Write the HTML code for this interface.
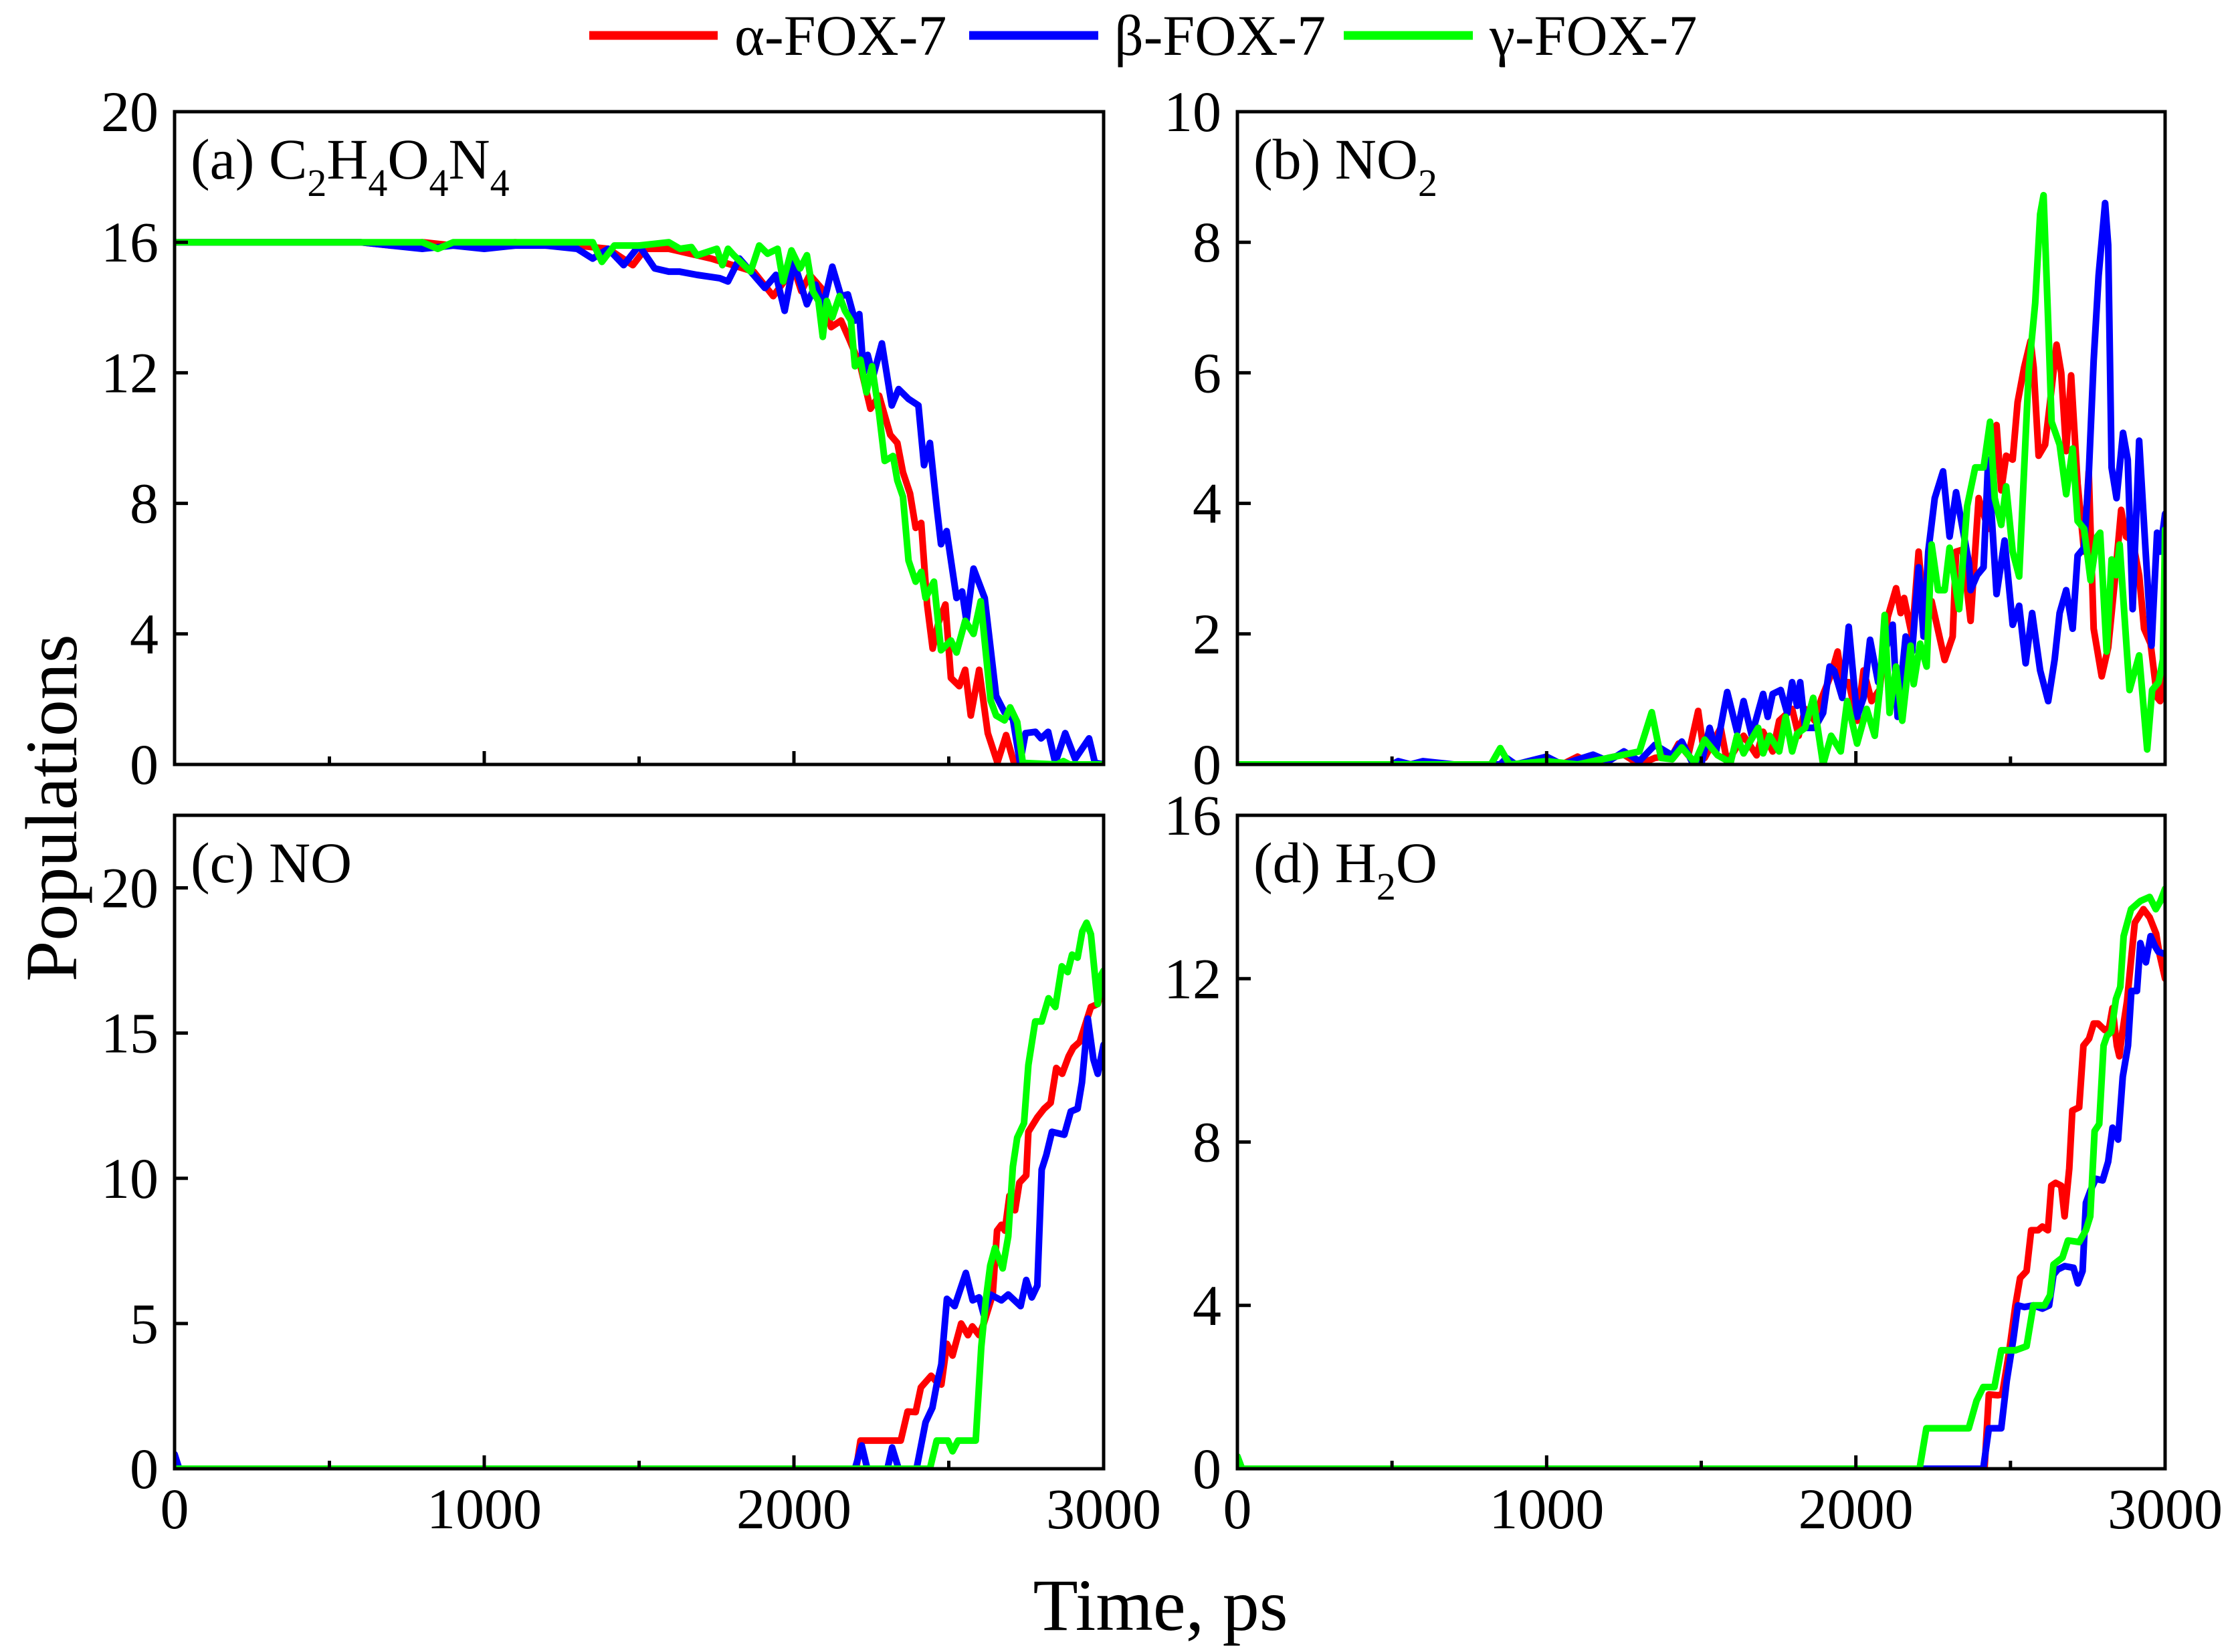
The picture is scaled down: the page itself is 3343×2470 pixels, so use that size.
<!DOCTYPE html>
<html>
<head>
<meta charset="utf-8">
<style>
html,body{margin:0;padding:0;background:#fff;}
svg{display:block;font-family:"Liberation Serif","DejaVu Serif",serif;}
</style>
</head>
<body>
<svg id="chart" width="3343" height="2470" viewBox="0 0 3343 2470" xmlns="http://www.w3.org/2000/svg">
  <rect x="0" y="0" width="3343" height="2470" fill="#fff"/>
  <g id="legend">
    <g>
      <line x1="881" y1="53" x2="1073" y2="53" stroke="#ff0000" stroke-width="13"/>
      <text x="1098" y="82" font-size="86">α-FOX-7</text>
    </g>
    <g>
      <line x1="1449" y1="53" x2="1642" y2="53" stroke="#0000ff" stroke-width="13"/>
      <text x="1666" y="82" font-size="86">β-FOX-7</text>
    </g>
    <g>
      <line x1="2009" y1="53" x2="2202" y2="53" stroke="#00ff00" stroke-width="13"/>
      <text x="2227" y="82" font-size="86">γ-FOX-7</text>
    </g>
  </g>
  <text x="0" y="0" font-size="110" text-anchor="middle" transform="translate(114,1208) rotate(-90)">Populations</text>
  <text x="1735" y="2437" font-size="110" text-anchor="middle">Time, ps</text>
  <g id="panels"></g>
</svg>
<script>
// ---- data: [time ps, population] ----
const aAlpha=[[0,16],[600,16],[700,15.9],[800,16],[900,15.9],[1000,15.9],[1100,16],[1200,15.9],[1300,15.9],[1400,15.8],[1480,15.3],[1520,15.8],[1596,15.8],[1733,15.5],[1870,15.1],[1933,14.35],[2000,15.2],[2024,14.5],[2051,15.0],[2088,14.6],[2120,13.4],[2152,13.6],[2180,13.0],[2215,12.2],[2247,10.9],[2275,11.3],[2311,10.1],[2334,9.85],[2352,8.95],[2375,8.3],[2393,7.25],[2411,7.4],[2430,4.9],[2448,3.55],[2466,4.33],[2489,4.9],[2507,2.65],[2534,2.4],[2553,2.9],[2571,1.5],[2598,2.9],[2626,0.96],[2657,0.06],[2685,0.9],[2712,0],[3000,0]];
const aBeta=[[0,16],[600,16],[700,15.9],[800,15.8],[900,15.9],[1000,15.8],[1100,15.9],[1200,15.9],[1300,15.8],[1350,15.5],[1400,15.8],[1450,15.3],[1500,15.9],[1550,15.2],[1596,15.1],[1630,15.1],[1687,15.0],[1760,14.9],[1787,14.8],[1824,15.5],[1906,14.6],[1942,15.0],[1970,13.9],[2000,15.4],[2042,14.1],[2070,14.7],[2093,14.0],[2124,15.25],[2152,14.35],[2174,14.4],[2197,13.6],[2211,13.8],[2225,12.0],[2238,12.55],[2256,11.9],[2284,12.9],[2316,11.0],[2338,11.5],[2370,11.2],[2402,11.0],[2420,9.17],[2439,9.85],[2461,7.9],[2475,6.75],[2493,7.15],[2525,5.1],[2543,5.3],[2557,4.4],[2580,6.0],[2616,5.1],[2653,2.1],[2680,1.6],[2707,1.4],[2730,0.05],[2748,0.96],[2780,1.0],[2798,0.8],[2821,1.0],[2844,0.05],[2876,0.96],[2908,0.17],[2953,0.8],[2972,0.05],[3000,0]];
const aGamma=[[0,16],[800,16],[850,15.8],[900,16],[1350,16],[1380,15.4],[1420,15.9],[1500,15.9],[1596,16.0],[1632,15.8],[1669,15.85],[1687,15.6],[1751,15.8],[1769,15.3],[1787,15.8],[1806,15.6],[1860,15.1],[1888,15.9],[1915,15.65],[1947,15.8],[1965,14.8],[1992,15.75],[2020,15.2],[2042,15.6],[2061,14.5],[2079,14.2],[2093,13.1],[2106,14.2],[2124,13.7],[2147,14.35],[2165,13.9],[2184,13.6],[2197,12.2],[2215,12.4],[2234,11.4],[2252,12.2],[2275,10.75],[2293,9.3],[2320,9.45],[2334,8.7],[2352,8.2],[2370,6.25],[2393,5.6],[2411,5.9],[2425,5.1],[2452,5.6],[2475,3.5],[2507,3.8],[2525,3.43],[2553,4.4],[2580,4.0],[2603,5.0],[2635,1.97],[2653,1.5],[2680,1.35],[2698,1.75],[2721,1.3],[2739,0.05],[2850,0],[2870,0.1],[2890,0],[3000,0]];

const bAlpha=[[0,0],[900,0],[950,0.05],[1000,0.1],[1050,0],[1100,0.12],[1150,0],[1200,0.1],[1250,0.15],[1300,0],[1350,0.1],[1406,0.14],[1427,0.32],[1458,0.14],[1490,0.82],[1511,0.1],[1563,0.56],[1584,0.03],[1637,0.44],[1679,0.14],[1700,0.5],[1731,0.2],[1752,0.67],[1794,0.85],[1815,0.44],[1836,0.85],[1867,0.67],[1888,1.0],[1920,1.38],[1941,1.73],[1956,1.26],[1977,1.26],[2004,0.67],[2025,1.44],[2051,0.97],[2077,1.15],[2103,2.26],[2130,2.7],[2145,2.32],[2156,2.55],[2182,1.96],[2203,3.26],[2224,2.08],[2245,2.5],[2287,1.6],[2313,1.96],[2324,3.26],[2345,3.29],[2371,2.2],[2397,4.08],[2428,3.61],[2455,5.2],[2470,4.2],[2486,4.73],[2507,4.67],[2523,5.55],[2544,6.08],[2565,6.49],[2575,6.08],[2591,4.73],[2612,4.9],[2628,5.55],[2649,6.43],[2664,6.0],[2680,4.8],[2696,5.96],[2717,4.3],[2738,3.26],[2753,4.49],[2769,2.08],[2795,1.35],[2816,1.79],[2837,2.79],[2858,3.9],[2874,3.49],[2895,3.43],[2916,2.9],[2932,2.08],[2953,1.85],[2974,1.03],[2984,0.97],[3000,1.4]];
const bBeta=[[0,0],[500,0],[520,0.05],[560,0],[600,0.05],[700,0],[850,0],[870,0.1],[900,0],[1000,0.12],[1050,0],[1150,0.15],[1200,0.05],[1250,0.2],[1300,0.05],[1350,0.3],[1406,0.14],[1437,0.35],[1469,0.05],[1500,0],[1527,0.56],[1548,0.2],[1584,1.11],[1616,0.5],[1637,0.97],[1663,0.45],[1700,1.08],[1715,0.73],[1731,1.08],[1757,1.14],[1778,0.79],[1794,1.26],[1810,0.9],[1820,1.26],[1836,0.56],[1867,0.56],[1894,0.79],[1915,1.5],[1930,1.44],[1956,1.02],[1977,2.11],[2004,0.73],[2025,1.02],[2046,1.91],[2072,1.26],[2098,1.79],[2119,2.14],[2135,0.73],[2161,1.96],[2182,1.73],[2203,3.02],[2219,1.96],[2234,3.26],[2255,4.08],[2282,4.49],[2303,3.49],[2324,4.17],[2350,3.49],[2366,3.08],[2371,2.67],[2392,2.9],[2413,3.02],[2428,4.67],[2455,2.61],[2481,3.43],[2507,2.14],[2528,2.43],[2549,1.55],[2570,2.32],[2596,1.44],[2622,0.97],[2643,1.61],[2659,2.32],[2680,2.67],[2701,2.08],[2717,3.2],[2738,3.32],[2753,4.43],[2769,6.19],[2785,7.49],[2806,8.6],[2816,7.96],[2827,4.55],[2843,4.08],[2864,5.08],[2879,4.67],[2895,2.38],[2916,4.96],[2937,3.26],[2956,1.82],[2974,3.55],[2984,3.26],[3000,3.84]];
const bGamma=[[0,0],[820,0],[850,0.25],[880,0],[1000,0.05],[1100,0],[1200,0.1],[1300,0.2],[1340,0.8],[1370,0.1],[1406,0.08],[1437,0.26],[1479,0.03],[1511,0.38],[1553,0.14],[1595,0.03],[1616,0.44],[1637,0.17],[1658,0.35],[1684,0.56],[1700,0.17],[1721,0.44],[1752,0.2],[1773,0.73],[1794,0.2],[1810,0.47],[1836,0.56],[1862,1.02],[1894,0],[1920,0.44],[1951,0.2],[1972,0.97],[2004,0.32],[2035,0.85],[2061,0.44],[2077,1.14],[2093,2.29],[2109,0.79],[2130,1.5],[2150,0.67],[2177,1.82],[2187,1.23],[2208,1.85],[2229,1.5],[2245,3.37],[2266,2.67],[2287,2.67],[2303,3.32],[2334,2.38],[2360,3.96],[2386,4.55],[2413,4.55],[2434,5.25],[2449,4.08],[2470,3.67],[2486,4.26],[2507,3.26],[2528,2.88],[2549,5.02],[2559,6.02],[2580,7.07],[2596,8.43],[2607,8.72],[2622,6.78],[2633,5.25],[2659,4.9],[2680,4.14],[2701,4.84],[2717,3.73],[2738,3.61],[2759,2.82],[2780,3.49],[2790,3.55],[2811,1.73],[2827,3.14],[2842,2.9],[2853,3.37],[2885,1.14],[2916,1.67],[2942,0.23],[2958,1.14],[2979,1.26],[2993,1.61],[3000,3.6]];

const cAlpha=[[0,0],[2201,0],[2215,0.97],[2345,0.97],[2367,1.97],[2393,1.95],[2410,2.8],[2443,3.2],[2460,3.0],[2476,2.9],[2494,4.3],[2512,3.9],[2540,5.0],[2562,4.6],[2576,4.9],[2598,4.6],[2613,5.0],[2642,6.0],[2656,8.2],[2670,8.4],[2681,8.2],[2696,9.4],[2714,8.9],[2728,9.85],[2750,10.1],[2757,11.6],[2786,12.1],[2808,12.4],[2829,12.6],[2847,13.8],[2866,13.6],[2887,14.2],[2902,14.5],[2923,14.7],[2959,15.9],[2981,16.0],[3000,16.7]];
const cBeta=[[0,0.5],[15,0],[2197,0],[2219,0.8],[2237,0],[2302,0],[2317,0.73],[2338,0],[2396,0],[2425,1.6],[2447,2.1],[2461,2.9],[2476,3.6],[2494,5.85],[2519,5.6],[2555,6.74],[2577,5.8],[2598,5.9],[2613,5.3],[2634,6.0],[2670,5.8],[2692,6.0],[2732,5.6],[2750,6.5],[2768,5.9],[2786,6.3],[2800,10.3],[2815,10.8],[2833,11.6],[2873,11.5],[2894,12.3],[2916,12.4],[2930,13.3],[2949,15.5],[2967,14.1],[2981,13.6],[3000,14.6]];
const cGamma=[[0,0],[2439,0],[2461,0.97],[2497,0.97],[2512,0.6],[2530,0.97],[2587,0.97],[2605,4.2],[2620,5.85],[2634,7.0],[2649,7.6],[2674,6.9],[2692,8.0],[2707,10.4],[2721,11.4],[2743,11.9],[2757,13.9],[2779,15.4],[2800,15.4],[2822,16.2],[2844,15.9],[2865,17.3],[2884,17.1],[2898,17.7],[2916,17.6],[2931,18.5],[2945,18.8],[2959,18.4],[2981,16.0],[2992,17.0],[3000,17.15]];

const dAlpha=[[0,0],[2416,0],[2430,1.82],[2459,1.8],[2473,1.82],[2495,2.83],[2516,4.0],[2531,4.67],[2552,4.84],[2567,5.84],[2589,5.84],[2603,5.93],[2621,5.84],[2632,6.93],[2646,7.0],[2664,6.93],[2675,6.18],[2690,7.35],[2700,8.77],[2722,8.85],[2736,10.36],[2754,10.53],[2769,10.9],[2783,10.9],[2805,10.74],[2819,10.8],[2830,11.28],[2844,10.36],[2852,10.1],[2862,10.7],[2877,11.45],[2891,12.54],[2902,13.37],[2930,13.7],[2950,13.5],[2971,13.1],[2982,12.6],[3000,12.0]];
const dBeta=[[0,0.3],[15,0],[2412,0],[2430,0.99],[2470,0.99],[2488,2.16],[2509,3.16],[2524,4.0],[2545,3.96],[2574,4.0],[2603,3.92],[2625,4.0],[2639,4.75],[2653,4.88],[2675,4.96],[2704,4.92],[2718,4.54],[2733,4.84],[2744,6.51],[2758,6.8],[2776,7.1],[2798,7.06],[2816,7.52],[2830,8.35],[2848,8.06],[2863,9.6],[2880,10.36],[2891,11.7],[2909,11.7],[2920,12.87],[2938,12.4],[2953,13.04],[2967,12.8],[2978,12.66],[3000,12.6]];
const dGamma=[[0,0.3],[15,0],[2206,0],[2228,0.99],[2365,0.99],[2390,1.66],[2412,2.0],[2448,2.0],[2470,2.9],[2516,2.9],[2552,3.0],[2574,4.0],[2610,4.0],[2628,4.25],[2639,5.0],[2668,5.17],[2686,5.59],[2722,5.55],[2744,5.84],[2758,6.18],[2772,8.27],[2787,8.44],[2801,10.36],[2812,10.6],[2826,10.7],[2841,11.5],[2855,11.8],[2866,13.04],[2890,13.7],[2920,13.9],[2950,14.0],[2970,13.7],[2985,13.9],[3000,14.2]];

const xTickValues=[0,1000,2000,3000];
const xMinorValues=[500,1500,2500];
const aYTicks=[0,4,8,12,16,20];
const bYTicks=[0,2,4,6,8,10];
const cYTicks=[0,5,10,15,20];
const dYTicks=[0,4,8,12,16];

const NS="http://www.w3.org/2000/svg";
const root=document.getElementById('panels');
function mk(tag,attrs,parent){const e=document.createElementNS(NS,tag);for(const k in attrs)e.setAttribute(k,attrs[k]);(parent||root).appendChild(e);return e;}

const panels=[
 {id:'a',x0:261,x1:1650,y0:167,y1:1143,ymax:20,yt:aYTicks,series:[aAlpha,aBeta,aGamma],label:[['(a) C',0],['2',1],['H',0],['4',1],['O',0],['4',1],['N',0],['4',1]],xlabels:false},
 {id:'b',x0:1850,x1:3237,y0:167,y1:1143,ymax:10,yt:bYTicks,series:[bAlpha,bBeta,bGamma],label:[['(b) NO',0],['2',1]],xlabels:false},
 {id:'c',x0:261,x1:1650,y0:1219,y1:2196,ymax:22.5,yt:cYTicks,series:[cAlpha,cBeta,cGamma],label:[['(c) NO',0]],xlabels:true},
 {id:'d',x0:1850,x1:3237,y0:1219,y1:2196,ymax:16,yt:dYTicks,series:[dAlpha,dBeta,dGamma],label:[['(d) H',0],['2',1],['O',0]],xlabels:true}
];
const colors=['#ff0000','#0000ff','#00ff00'];
const sNames=['alpha','beta','gamma'];

panels.forEach(p=>{
  const g=mk('g',{});
  
  
  const xs=t=>p.x0+(t/3000)*(p.x1-p.x0);
  const ys=v=>p.y1-(v/p.ymax)*(p.y1-p.y0);
  const defs=mk('defs',{},g);
  const cp=mk('clipPath',{id:'clip-'+p.id},defs);
  mk('rect',{x:p.x0,y:p.y0-6,width:p.x1-p.x0,height:p.y1-p.y0+6},cp);
  p.series.forEach((s,i)=>{
    const pts=s.map(d=>xs(d[0]).toFixed(1)+','+ys(d[1]).toFixed(1)).join(' ');
    const pl=mk('polyline',{points:pts,fill:'none',stroke:colors[i],'stroke-width':10,'stroke-linejoin':'round','stroke-linecap':'round','clip-path':'url(#clip-'+p.id+')'},g);
    
    
  });
  const fr=mk('rect',{x:p.x0,y:p.y0,width:p.x1-p.x0,height:p.y1-p.y0,fill:'none',stroke:'#000','stroke-width':5},g);
  
  
  xTickValues.forEach(t=>{
    const x=xs(t);
    const tk=mk('line',{x1:x,y1:p.y1,x2:x,y2:p.y1-20,stroke:'#000','stroke-width':5},g);
    
    
    if(p.xlabels){
      const tl=mk('text',{x:x,y:2285,'font-size':86,'text-anchor':'middle'},g);
      tl.textContent=String(t);
      
      
    }
  });
  xMinorValues.forEach(t=>{
    const x=xs(t);
    const tk=mk('line',{x1:x,y1:p.y1,x2:x,y2:p.y1-12,stroke:'#000','stroke-width':5},g);
    
    
  });
  p.yt.forEach(v=>{
    const y=ys(v);
    const tk=mk('line',{x1:p.x0,y1:y,x2:p.x0+20,y2:y,stroke:'#000','stroke-width':5},g);
    
    
    const tl=mk('text',{x:p.x0-24,y:y+29,'font-size':86,'text-anchor':'end'},g);
    tl.textContent=String(v);
    
    
  });
  const lt=mk('text',{x:p.x0+24,y:p.y0+100,'font-size':86},g);
  
  
  let prevSub=false;
  p.label.forEach(([txt,sub])=>{
    const ts=mk('tspan',{},lt);
    ts.textContent=txt;
    if(sub){ts.setAttribute('font-size','58');ts.setAttribute('dy','26');prevSub=true;}
    else if(prevSub){ts.setAttribute('dy','-26');prevSub=false;}
  });
});
</script>
</body>
</html>
